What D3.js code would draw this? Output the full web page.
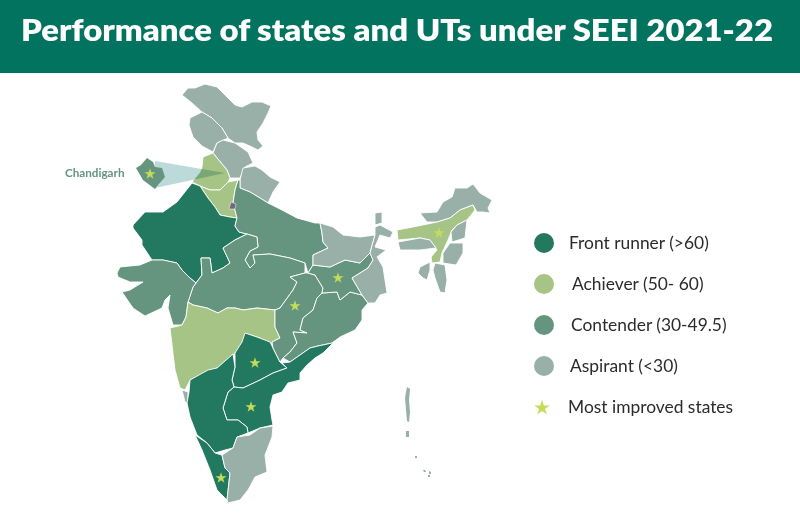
<!DOCTYPE html>
<html>
<head>
<meta charset="utf-8">
<script src="https://cdn.jsdelivr.net/npm/d3@7"></script>
<style>
  html, body { margin: 0; padding: 0; background: #fff; }
  svg { display: block; }
</style>
</head>
<body>
<svg id="chart" width="800" height="519"></svg>
<script>
// performance bands and legend
const bands = ["front", "achiever", "contender", "aspirant"];
const bandLabels = ["Front runner (>60)", "Achiever (50- 60)", "Contender (30-49.5)", "Aspirant (<30)"];
const bandColors = ["#23795f", "#a5c486", "#65947f", "#98b0a8"];
const starLabel = "Most improved states";

// outlines, in map units
const ladakh = [[182,95],[188,88],[195,88],[205,84],[217,87],[222,92],[228,98],[235,105],[242,107],[252,102],[262,102],[271,106],[268,113],[263,123],[257,132],[258,140],[263,146],[258,150],[252,147],[243,143],[235,143],[228,138],[222,128],[212,118],[202,112],[192,103]];
const jammuKashmir = [[202,112],[190,118],[189,125],[193,137],[202,146],[213,152],[217,143],[228,138],[222,128],[212,118]];
const himachal = [[217,143],[223,140],[235,143],[248,152],[253,163],[245,167],[240,178],[230,178],[227,170],[213,153]];
const uttarakhand = [[243,168],[255,166],[262,170],[270,177],[280,182],[273,192],[268,203],[260,198],[250,192],[240,188],[240,180]];
const punjab = [[213,153],[203,157],[202,167],[200,172],[192,182],[200,186],[210,190],[220,190],[228,182],[230,178],[227,170]];
const haryana = [[200,186],[210,190],[220,190],[228,182],[238,180],[235,190],[233,203],[237,218],[230,217],[220,215],[215,207],[208,198]];
const delhi = [[231,202],[236,204],[235,209],[229,209]];
const rajasthan = [[192,183],[200,186],[208,198],[215,207],[220,215],[230,217],[237,218],[235,226],[239,232],[247,234],[235,240],[223,248],[230,263],[223,268],[212,273],[210,258],[201,258],[202,275],[196,283],[190,278],[182,270],[177,263],[163,260],[152,260],[142,245],[142,240],[133,228],[133,225],[145,212],[163,212],[177,202]];
const uttarPradesh = [[238,180],[240,180],[240,188],[250,192],[260,198],[268,203],[280,209],[297,218],[315,223],[320,223],[322,233],[323,242],[328,248],[313,255],[313,265],[308,273],[305,263],[290,258],[270,254],[253,255],[255,263],[250,268],[245,260],[250,251],[258,247],[257,237],[247,234],[239,232],[235,226],[237,218],[233,203],[235,190]];
const madhyaPradesh = [[196,283],[202,275],[201,258],[210,258],[212,273],[223,268],[230,263],[223,248],[235,240],[247,234],[257,237],[258,247],[250,251],[245,260],[250,268],[255,263],[253,255],[270,254],[290,258],[305,263],[305,273],[290,277],[297,282],[293,290],[280,308],[275,310],[257,308],[243,310],[235,308],[227,308],[218,313],[207,308],[193,305],[188,302],[193,287]];
const gujarat = [[117,273],[120,267],[140,265],[152,260],[163,260],[177,263],[182,270],[190,278],[196,283],[193,287],[188,302],[186,317],[182,325],[173,325],[168,308],[170,295],[165,300],[162,308],[145,316],[133,308],[122,292],[130,290],[143,282],[130,282],[118,277]];
const maharashtra = [[170,328],[182,325],[186,317],[188,302],[193,305],[207,308],[218,313],[227,308],[235,308],[243,310],[257,308],[275,310],[275,327],[280,338],[272,342],[272,348],[260,338],[247,334],[245,343],[235,353],[217,368],[190,380],[185,390],[180,388],[175,370]];
const goa = [[182,390],[188,392],[188,403],[185,402]];
const telangana = [[245,333],[257,337],[270,342],[273,348],[280,362],[287,368],[273,373],[260,380],[243,388],[234,387],[232,380],[235,367],[235,353],[242,342]];
const chhattisgarh = [[290,277],[305,273],[308,273],[315,275],[323,288],[322,293],[317,298],[313,310],[303,318],[300,330],[307,333],[293,332],[297,343],[290,352],[283,358],[280,362],[273,348],[272,342],[280,338],[275,327],[275,310],[280,308],[293,290],[297,282]];
const odisha = [[322,293],[337,292],[340,300],[350,292],[362,295],[368,303],[362,310],[362,320],[355,330],[340,337],[332,343],[318,346],[310,348],[300,355],[290,362],[283,358],[290,352],[297,343],[293,332],[307,333],[300,330],[303,318],[313,310],[317,298]];
const jharkhand = [[313,265],[330,267],[345,260],[360,263],[370,253],[373,260],[368,268],[352,278],[362,295],[350,292],[340,300],[337,292],[322,293],[323,288],[315,275],[308,273]];
const bihar = [[320,223],[333,227],[343,235],[360,237],[375,235],[373,242],[370,253],[360,263],[345,260],[330,267],[313,265],[313,255],[328,248],[323,242],[322,233]];
const westBengal = [[375,227],[380,225],[393,232],[390,238],[380,235],[375,247],[386,250],[377,257],[383,267],[385,280],[387,293],[380,295],[375,303],[368,303],[362,295],[352,278],[368,268],[373,260],[370,253],[373,242],[375,235]];
const sikkim = [[375,213],[382,212],[382,223],[375,225]];
const arunachal = [[420,213],[437,212],[443,202],[452,197],[455,188],[467,188],[473,184],[480,193],[492,200],[488,208],[490,213],[483,212],[477,212],[473,205],[460,210],[450,218],[437,222],[427,222]];
const assam = [[397,230],[413,227],[437,222],[450,218],[460,210],[473,205],[475,210],[467,220],[457,225],[452,230],[448,240],[442,253],[440,262],[432,263],[431,257],[437,250],[430,240],[420,238],[398,240]];
const nagaland = [[457,225],[467,220],[465,238],[452,242],[451,232]];
const manipur = [[450,243],[463,243],[463,253],[456,265],[443,263],[443,253]];
const mizoram = [[435,263],[445,265],[447,280],[445,293],[440,292],[435,278],[433,270]];
const tripura = [[420,267],[430,262],[430,270],[427,280],[423,278],[418,273]];
const meghalaya = [[398,242],[420,238],[430,240],[436,248],[420,250],[400,250]];
const andhra = [[335,341],[323,353],[315,358],[307,365],[300,373],[300,380],[288,383],[282,392],[273,395],[270,407],[272,420],[273,425],[260,428],[248,433],[247,427],[238,420],[227,420],[223,408],[228,392],[234,387],[243,388],[260,380],[273,373],[287,368],[282,363],[290,362],[300,355],[310,348],[318,346],[332,343]];
const karnataka = [[233,354],[235,367],[232,380],[234,387],[228,392],[223,408],[227,420],[238,420],[247,427],[248,433],[237,437],[233,448],[225,450],[215,453],[207,443],[197,435],[190,417],[187,403],[189,392],[190,380],[208,370],[217,368]];
const kerala = [[195,435],[207,443],[215,453],[222,455],[225,468],[230,473],[227,500],[217,490],[210,470],[202,450]];
const tamilNadu = [[250,435],[260,428],[273,426],[272,437],[265,455],[267,472],[255,477],[248,490],[240,500],[228,503],[227,500],[230,473],[225,468],[222,455],[233,448],[237,437]];
const andaman = [[407,387],[410,389],[409,400],[410,412],[409,422],[407,421],[406,410],[405,398],[406,392]];
const andaman2 = [[406,431],[409,431],[409,437],[406,437]];
const nicobar1 = [[415,456],[417,456],[417,458],[415,458]];
const nicobar2 = [[423,470],[425,470],[426,472],[424,472]];
const nicobar3 = [[429,471],[431,472],[431,474],[429,474]];
const nicobar4 = [[428,475],[430,475],[430,477],[428,477]];
const chandigarhInset = [[136,168],[141,165],[147,158],[153,162],[155,167],[162,168],[165,177],[158,185],[155,189],[151,186],[143,180]];

const regions = [
  [ladakh, "aspirant"], [jammuKashmir, "aspirant"], [himachal, "aspirant"], [uttarakhand, "aspirant"],
  [punjab, "achiever"], [haryana, "achiever"], [rajasthan, "front"],
  [uttarPradesh, "contender"], [madhyaPradesh, "contender"], [gujarat, "contender"], [maharashtra, "achiever"],
  [goa, "aspirant"], [telangana, "front"], [chhattisgarh, "contender"], [odisha, "contender"],
  [jharkhand, "contender"], [bihar, "aspirant"], [westBengal, "aspirant"], [sikkim, "aspirant"],
  [arunachal, "aspirant"], [assam, "achiever"], [nagaland, "aspirant"], [manipur, "aspirant"],
  [mizoram, "aspirant"], [tripura, "aspirant"], [meghalaya, "aspirant"], [andhra, "front"],
  [karnataka, "front"], [kerala, "front"], [tamilNadu, "aspirant"]
];
const islands = [andaman, andaman2, nicobar1, nicobar2, nicobar3, nicobar4];

// most improved: Chandigarh, Assam, Jharkhand, Chhattisgarh, Telangana, Andhra, Kerala
const improved = [[150,174],[439,233],[338,278],[295,306],[255,363],[251,407],[221,478]];
const beam = [[155,161],[225,173],[155,188]];

const svg = d3.select("#chart");
const color = d3.scaleOrdinal().domain(bands).range(bandColors);
const projection = d3.geoIdentity();
const path = d3.geoPath(projection);

function toFeature(ring, band) {
  return { type: "Feature", properties: { band: band }, geometry: { type: "Polygon", coordinates: [ring.concat([ring[0]])] } };
}

// header banner
svg.append("rect").attr("width", 800).attr("height", 73).attr("fill", "#02735f");
svg.append("text")
  .attr("x", 21).attr("y", 41)
  .attr("fill", "#fff")
  .attr("font-family", "Lato, sans-serif")
  .attr("font-weight", 800)
  .attr("font-size", 29.5)
  .attr("textLength", 752)
  .attr("lengthAdjust", "spacingAndGlyphs")
  .text("Performance of states and UTs under SEEI 2021-22");

// map
svg.append("g").selectAll("path")
  .data(regions.map(d => toFeature(d[0], d[1])))
  .join("path")
  .attr("d", path)
  .attr("fill", d => color(d.properties.band))
  .attr("stroke", "#fff")
  .attr("stroke-width", 0.9)
  .attr("stroke-linejoin", "round");

svg.append("g").selectAll("path")
  .data(islands.map(d => toFeature(d, "aspirant")))
  .join("path")
  .attr("d", path)
  .attr("fill", d => color(d.properties.band));

// delhi
svg.append("path")
  .datum(toFeature(delhi, "contender"))
  .attr("d", path)
  .attr("fill", "#6f6a78")
  .attr("stroke", "#fff")
  .attr("stroke-width", 0.5);

// chandigarh callout
svg.append("path")
  .datum(toFeature(beam, "contender"))
  .attr("d", path)
  .attr("fill", "#bcdada")
  .style("mix-blend-mode", "multiply");
svg.append("path")
  .datum(toFeature(chandigarhInset, "contender"))
  .attr("d", path)
  .attr("fill", color("contender"));
svg.append("text")
  .attr("x", 65).attr("y", 177)
  .attr("fill", "#65947f")
  .attr("font-family", "Lato, sans-serif")
  .attr("font-weight", 700)
  .attr("font-size", 11.7)
  .text("Chandigarh");

// stars
const star = d3.symbol().type(d3.symbolStar);
svg.append("g").selectAll("path")
  .data(improved)
  .join("path")
  .attr("d", star.size(38))
  .attr("transform", d => "translate(" + projection(d) + ")")
  .attr("fill", "#c4dc5a");

// legend
const legendY = d3.scalePoint().domain(bands).range([243, 366]);
const labelX = [569, 572, 571, 570];
const legend = svg.append("g");
legend.selectAll("circle")
  .data(bands)
  .join("circle")
  .attr("cx", 544)
  .attr("cy", d => legendY(d))
  .attr("r", 10)
  .attr("fill", d => color(d));
legend.selectAll("text")
  .data(bands)
  .join("text")
  .attr("x", (d, i) => labelX[i])
  .attr("y", d => legendY(d) + 6)
  .attr("fill", "#2b2b2b")
  .attr("font-family", "Lato, sans-serif")
  .attr("font-size", 17.4)
  .text((d, i) => bandLabels[i]);
legend.append("path")
  .attr("d", star.size(75))
  .attr("transform", "translate(542,408)")
  .attr("fill", "#c4dc5a");
legend.append("text")
  .attr("x", 568).attr("y", 413)
  .attr("fill", "#2b2b2b")
  .attr("font-family", "Lato, sans-serif")
  .attr("font-size", 17.4)
  .text(starLabel);
</script>
</body>
</html>
